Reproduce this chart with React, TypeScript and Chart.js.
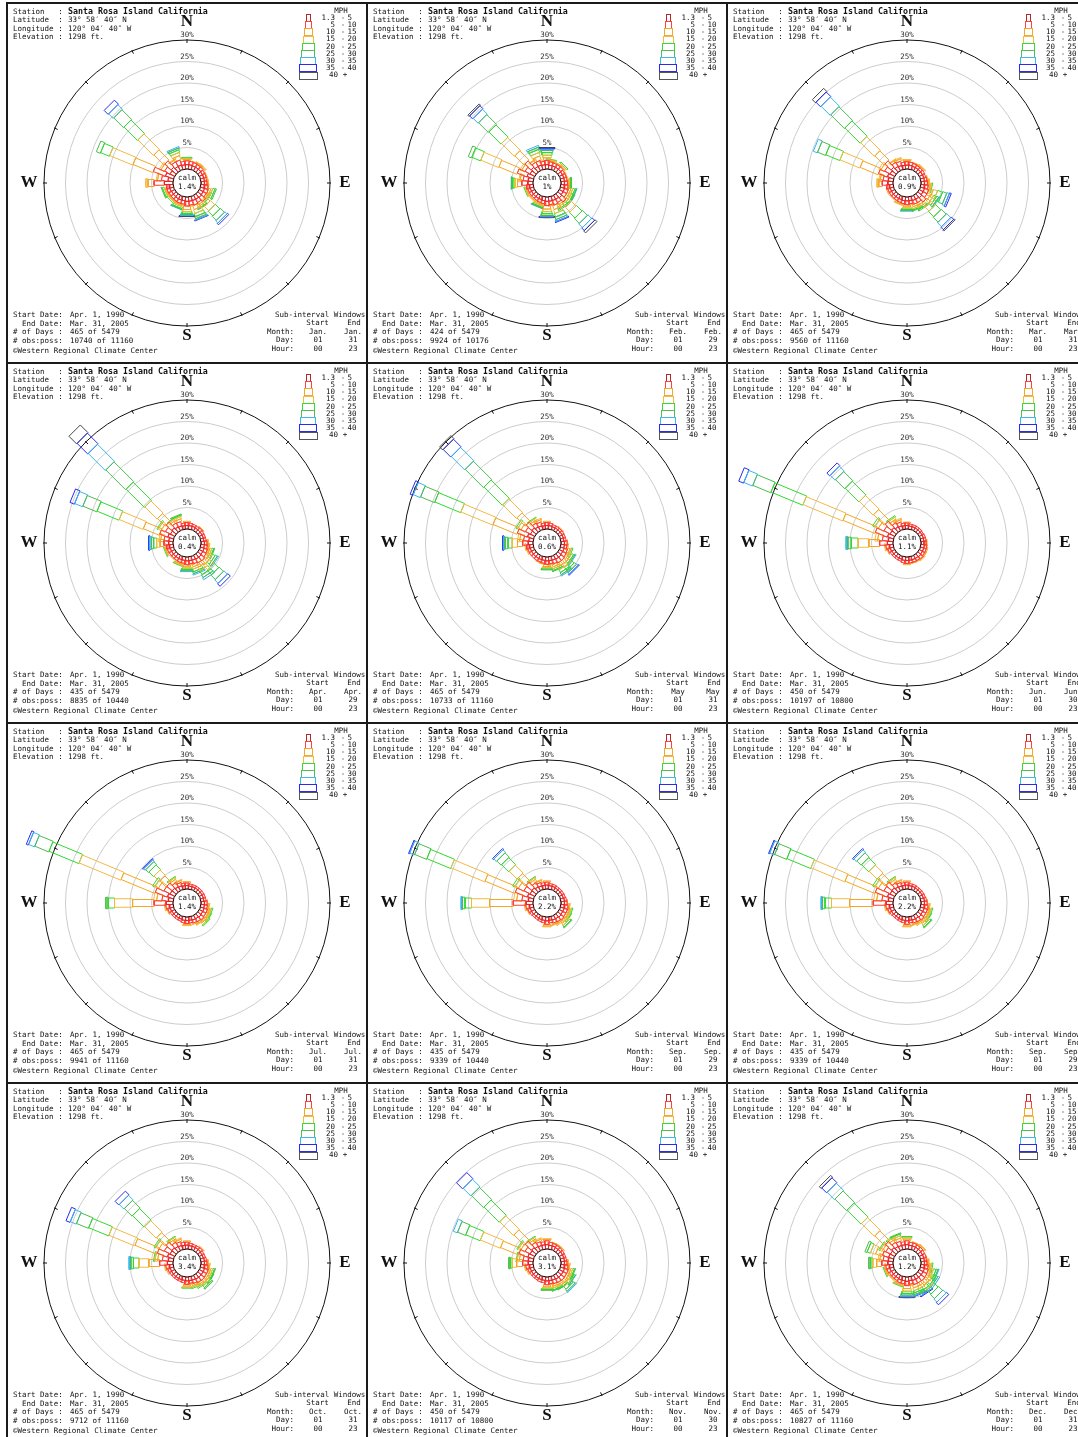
import React, { useEffect, useRef } from "react";
import { Chart, registerables } from "chart.js";
Chart.register(...registerables);

// ---------- DATA ----------
const MONTHS = ["Jan.", "Feb.", "Mar.", "Apr.", "May", "Jun.", "Jul.", "Sep.", "Sep.", "Oct.", "Nov.", "Dec."];
const END_DAYS = ["31", "29", "31", "29", "31", "30", "31", "29", "29", "31", "30", "31"];
const CALM_LABELS = ["1.4%", "1%", "0.9%", "0.4%", "0.6%", "1.1%", "1.4%", "2.2%", "2.2%", "3.4%", "3.1%", "1.2%"];
const DAY_COUNTS = ["465", "424", "465", "435", "465", "450", "465", "435", "435", "465", "450", "465"];
const OBS_POSS = ["10740 of 11160", "9924 of 10176", "9560 of 11160", "8835 of 10440", "10733 of 11160", "10197 of 10800",
  "9941 of 11160", "9339 of 10440", "9339 of 10440", "9712 of 11160", "10117 of 10800", "10827 of 11160"];
const SPEED_CLASSES = [["1.3", "5"], ["5", "10"], ["10", "15"], ["15", "20"], ["20", "25"], ["25", "30"], ["30", "35"], ["35", "40"], ["40", "+"]];
const RING_PCTS = [5, 10, 15, 20, 25, 30];
const DIRECTION_COUNT = 32;

// per direction (0°, 11.25°, ... clockwise from N): % per speed class
const JAN_ROSE = [
  [1.0, 0.9, 0.3, 0.2, 0.3], [1.0, 0.8], [0.9, 0.8, 0.2], [0.9, 0.7, 0.3, 0.2],
  [0.9, 0.7, 0.3, 0.2], [0.8, 0.6], [0.8, 0.6, 0.2], [0.8, 0.5],
  [0.8, 0.6, 0.3], [0.9, 0.7, 0.2], [1.0, 0.9, 0.5, 0.4, 0.5, 0.3], [1.0, 0.8, 0.4, 0.3, 0.3],
  [1.1, 1.2, 1.2, 1.4, 1.5, 1.3, 0.7, 0.4], [1.0, 0.9, 0.5, 0.4, 0.4, 0.2], [1.0, 1.1, 1.0, 0.9, 0.7, 0.5, 0.3, 0.1], [1.0, 0.9, 0.3],
  [1.0, 1.1, 0.8, 0.5, 0.4, 0.3, 0.2, 0.1, 0.1], [0.9, 0.8, 0.3], [0.9, 0.8, 0.3, 0.3, 0.4, 0.2, 0.1], [0.9, 0.7, 0.2],
  [0.8, 0.7, 0.3, 0.2, 0.3], [0.8, 0.7, 0.2], [0.9, 0.7, 0.3, 0.2, 0.4, 0.2], [0.9, 0.7],
  [2.0, 2.4, 1.4, 0.5], [1.2, 1.5, 0.9, 0.3], [2.0, 3.0, 5.0, 5.8, 2.2, 1.0], [1.2, 1.4, 0.9, 0.4],
  [1.5, 2.0, 3.3, 5.1, 4.4, 3.2, 1.5, 1.3], [1.1, 1.2, 0.5, 0.2], [1.1, 1.2, 1.0, 0.7, 0.6, 0.4, 0.3], [1.0, 0.8],
];
const FEB_ROSE = [
  [1.0, 1.0, 0.6, 0.6, 0.6, 0.5, 0.3, 0.2, 0.2], [0.9, 0.8, 0.2, 0.2, 0.2], [0.9, 0.7, 0.2], [0.9, 0.7, 0.3],
  [0.9, 0.7, 0.3, 0.3, 0.3], [0.8, 0.6], [0.8, 0.6, 0.2], [0.8, 0.6],
  [0.8, 0.7, 0.3, 0.2, 0.3, 0.1], [0.9, 0.7, 0.3], [1.0, 0.9, 0.5, 0.4, 0.5, 0.3, 0.1], [1.0, 0.9, 0.5, 0.5, 0.5, 0.3],
  [1.2, 1.3, 1.3, 1.5, 1.8, 1.6, 1.2, 0.8, 0.6], [1.0, 0.9, 0.5, 0.4, 0.5, 0.3], [1.0, 1.1, 1.0, 0.9, 0.8, 0.6, 0.4, 0.2], [1.0, 0.8, 0.3],
  [1.0, 1.0, 0.8, 0.6, 0.5, 0.4, 0.2, 0.1, 0.1], [0.9, 0.7, 0.3], [0.8, 0.7, 0.3, 0.3, 0.3, 0.2, 0.1], [0.8, 0.6],
  [0.8, 0.6, 0.3, 0.2], [0.8, 0.6], [0.8, 0.6, 0.3, 0.2, 0.2], [0.9, 0.7],
  [1.2, 1.4, 1.0, 0.6, 0.5, 0.3, 0.1], [1.1, 1.2, 0.7, 0.3], [1.6, 2.4, 4.5, 4.5, 2.2, 0.8], [1.2, 1.3, 0.8, 0.4],
  [1.5, 2.0, 3.0, 4.2, 4.0, 3.2, 1.6, 1.0, 0.4], [1.1, 1.1, 0.5, 0.2], [1.1, 1.1, 1.0, 0.8, 0.7, 0.5, 0.4], [1.0, 0.8, 0.2],
];
const MAR_ROSE = [
  [0.9, 0.8, 0.3, 0.2], [0.9, 0.7], [0.8, 0.7, 0.2], [0.8, 0.6, 0.2],
  [0.8, 0.6, 0.3, 0.2], [0.8, 0.6], [0.8, 0.5], [0.8, 0.6, 0.2],
  [0.8, 0.7, 0.3, 0.2], [0.9, 0.8, 0.4, 0.3, 0.2], [1.0, 1.0, 1.0, 1.0, 1.2, 1.0, 0.6, 0.4], [1.0, 1.0, 0.8, 0.7, 0.7, 0.5, 0.2],
  [1.2, 1.3, 1.2, 1.3, 1.7, 1.6, 1.3, 0.8, 0.3], [1.0, 0.9, 0.6, 0.5, 0.4, 0.3], [1.0, 0.9, 0.5, 0.4, 0.3, 0.2], [0.9, 0.7, 0.3],
  [0.9, 0.9, 0.5, 0.3, 0.3, 0.2, 0.2], [0.9, 0.7, 0.2], [0.8, 0.7, 0.3, 0.2], [0.8, 0.6],
  [0.8, 0.6, 0.2], [0.8, 0.6], [0.8, 0.6, 0.3], [0.9, 0.7],
  [1.2, 1.3, 0.8, 0.4], [1.1, 1.2, 0.7, 0.3], [1.5, 2.2, 4.5, 5.0, 3.5, 2.0, 1.0], [1.2, 1.4, 0.9, 0.5],
  [1.5, 2.0, 3.0, 4.5, 5.0, 4.5, 3.0, 1.5, 1.0], [1.1, 1.1, 0.5, 0.2], [1.0, 1.0, 0.5, 0.3], [0.9, 0.7],
];
const APR_ROSE = [
  [0.8, 0.7, 0.3], [0.8, 0.6], [0.8, 0.5], [0.7, 0.5],
  [0.7, 0.6, 0.2], [0.7, 0.5], [0.7, 0.5], [0.7, 0.5],
  [0.8, 0.6, 0.3], [0.8, 0.7, 0.3, 0.2], [0.9, 0.8, 0.5, 0.4, 0.4, 0.2], [0.9, 0.9, 0.7, 0.6, 0.7, 0.5, 0.3],
  [1.0, 1.1, 1.1, 1.3, 1.5, 1.4, 1.1, 0.8], [1.0, 1.0, 0.9, 0.9, 1.0, 0.7, 0.5], [0.9, 0.9, 0.6, 0.5, 0.6, 0.4, 0.3], [0.9, 0.7, 0.3],
  [0.9, 0.9, 0.5, 0.3, 0.3, 0.3, 0.2], [0.8, 0.7, 0.2], [0.8, 0.7, 0.3, 0.2, 0.2], [0.8, 0.6],
  [0.8, 0.6, 0.2], [0.8, 0.6], [0.8, 0.7, 0.3, 0.2, 0.2], [0.9, 0.7, 0.3],
  [1.0, 1.1, 0.9, 0.8, 0.7, 0.5, 0.4, 0.2], [1.0, 1.1, 0.8, 0.4], [1.4, 2.0, 4.0, 6.0, 5.5, 3.5, 2.0, 1.1], [1.1, 1.3, 1.0, 0.7, 0.3],
  [1.3, 1.8, 2.5, 4.0, 6.0, 6.5, 5.6, 3.5, 2.5], [1.0, 1.0, 0.6, 0.4, 0.2], [0.9, 1.0, 0.6, 0.5, 0.3, 0.2], [0.8, 0.6],
];
const MAY_ROSE = [
  [0.8, 0.7, 0.3], [0.8, 0.6], [0.7, 0.5], [0.7, 0.5],
  [0.7, 0.5, 0.2], [0.7, 0.5], [0.7, 0.5], [0.7, 0.5],
  [0.8, 0.6, 0.2], [0.8, 0.6, 0.3], [0.9, 0.8, 0.5, 0.3, 0.3], [0.9, 0.9, 0.6, 0.5, 0.5, 0.3, 0.2],
  [1.0, 1.0, 0.9, 0.8, 0.8, 0.6, 0.4, 0.2], [1.0, 1.0, 0.8, 0.7, 0.7, 0.5, 0.3], [0.9, 0.9, 0.6, 0.4, 0.4, 0.2], [0.9, 0.7, 0.3],
  [0.9, 0.8, 0.5, 0.3, 0.3, 0.2], [0.8, 0.7, 0.2], [0.8, 0.6, 0.2], [0.8, 0.6],
  [0.8, 0.6], [0.8, 0.6], [0.8, 0.6, 0.3], [0.9, 0.7, 0.3],
  [1.1, 1.3, 1.2, 1.2, 1.0, 0.7, 0.3, 0.2], [1.0, 1.2, 0.9, 0.5], [1.5, 2.5, 6.0, 8.0, 6.5, 3.5, 1.8, 0.7], [1.1, 1.3, 1.1, 0.8, 0.4],
  [1.3, 1.8, 2.7, 4.5, 6.0, 6.0, 4.4, 2.5, 1.0], [1.0, 1.0, 0.6, 0.4, 0.2], [0.9, 0.9, 0.5, 0.3], [0.8, 0.6],
];
const JUN_ROSE = [
  [0.8, 0.6, 0.2], [0.7, 0.5], [0.7, 0.5], [0.7, 0.5],
  [0.7, 0.5], [0.7, 0.4], [0.7, 0.5], [0.7, 0.5],
  [0.7, 0.5, 0.2], [0.8, 0.6], [0.8, 0.6, 0.3], [0.8, 0.6, 0.3],
  [0.9, 0.7, 0.3], [0.8, 0.6, 0.2], [0.8, 0.6, 0.2], [0.8, 0.6],
  [0.8, 0.7, 0.3], [0.8, 0.6], [0.7, 0.5], [0.7, 0.5],
  [0.7, 0.5], [0.7, 0.5], [0.8, 0.6, 0.2], [0.9, 0.8, 0.3],
  [1.3, 1.8, 2.5, 2.5, 1.6, 0.8, 0.4], [1.1, 1.4, 1.1, 0.6], [1.5, 3.0, 8.0, 10.0, 8.0, 4.5, 2.2, 1.2], [1.2, 1.6, 1.4, 0.9, 0.5],
  [1.4, 2.0, 3.5, 4.5, 4.5, 3.0, 1.6, 0.9], [1.0, 1.1, 0.7, 0.5, 0.3], [0.9, 0.9, 0.5, 0.3], [0.8, 0.6],
];
const JUL_ROSE = [
  [0.8, 0.6, 0.3], [0.7, 0.5], [0.7, 0.5], [0.7, 0.5],
  [0.7, 0.5], [0.7, 0.5], [0.7, 0.5], [0.7, 0.5],
  [0.8, 0.6, 0.2], [0.8, 0.7, 0.3, 0.2], [0.9, 0.8, 0.5, 0.3, 0.3], [0.9, 0.8, 0.5, 0.4, 0.3],
  [1.0, 0.9, 0.6, 0.4, 0.3], [0.9, 0.8, 0.4, 0.2], [0.9, 0.7, 0.3], [0.8, 0.6],
  [0.8, 0.7, 0.3, 0.2], [0.8, 0.6], [0.7, 0.5], [0.7, 0.5],
  [0.7, 0.5], [0.7, 0.5], [0.8, 0.6, 0.2], [0.9, 0.8, 0.3],
  [1.6, 2.8, 5.0, 4.2, 1.5, 0.5], [1.1, 1.5, 1.2, 0.7], [1.5, 3.0, 8.5, 10.5, 7.5, 3.5, 1.5, 0.5], [1.2, 1.6, 1.4, 0.9, 0.5],
  [1.2, 1.6, 2.0, 1.8, 1.5, 0.9, 0.5, 0.2], [1.0, 1.1, 0.7, 0.4, 0.2], [0.9, 0.8, 0.4, 0.2], [0.8, 0.6],
];
const SEP_ROSE = [
  [0.9, 0.7, 0.3], [0.8, 0.5], [0.8, 0.5], [0.7, 0.5],
  [0.7, 0.5], [0.7, 0.5], [0.7, 0.5], [0.8, 0.5],
  [0.8, 0.6, 0.2], [0.9, 0.7, 0.3, 0.2], [0.9, 0.8, 0.5, 0.3, 0.3], [0.9, 0.8, 0.5, 0.4, 0.3],
  [1.0, 0.9, 0.7, 0.5, 0.4, 0.2], [0.9, 0.8, 0.4, 0.3], [0.9, 0.7, 0.3, 0.2], [0.8, 0.6],
  [0.9, 0.8, 0.4, 0.2], [0.8, 0.6], [0.8, 0.5], [0.7, 0.5],
  [0.7, 0.5], [0.8, 0.5], [0.8, 0.6, 0.2], [0.9, 0.8, 0.3],
  [1.6, 3.0, 5.5, 4.2, 1.5, 0.6, 0.3], [1.1, 1.5, 1.2, 0.7], [1.5, 3.0, 7.5, 8.5, 6.0, 3.0, 1.2, 0.2], [1.2, 1.6, 1.4, 0.9, 0.5],
  [1.3, 1.8, 2.5, 2.6, 2.3, 1.4, 0.8, 0.3], [1.0, 1.1, 0.7, 0.4, 0.2], [0.9, 0.8, 0.4, 0.2], [0.9, 0.6],
];
const OCT_ROSE = [
  [0.9, 0.7, 0.3], [0.8, 0.6], [0.8, 0.5], [0.8, 0.5],
  [0.8, 0.6, 0.2], [0.7, 0.5], [0.7, 0.5], [0.8, 0.5],
  [0.8, 0.6, 0.3], [0.9, 0.7, 0.3, 0.2], [1.0, 0.9, 0.5, 0.4, 0.4, 0.2], [1.0, 0.9, 0.5, 0.4, 0.4, 0.2],
  [1.0, 1.0, 0.7, 0.5, 0.5, 0.3], [1.0, 0.9, 0.5, 0.4, 0.3], [0.9, 0.8, 0.4, 0.3, 0.3], [0.9, 0.6, 0.2],
  [0.9, 0.8, 0.4, 0.3, 0.2], [0.8, 0.6], [0.8, 0.5], [0.8, 0.5],
  [0.8, 0.5], [0.8, 0.5], [0.8, 0.6, 0.3], [0.9, 0.8, 0.3],
  [1.3, 1.8, 2.5, 2.3, 1.3, 0.6, 0.4], [1.1, 1.4, 1.1, 0.6, 0.3], [1.5, 2.5, 5.5, 6.5, 5.0, 3.0, 1.5, 1.0], [1.2, 1.5, 1.3, 0.8, 0.4],
  [1.3, 1.8, 2.8, 3.8, 3.8, 2.5, 1.5, 1.2], [1.1, 1.1, 0.7, 0.4, 0.2], [1.0, 0.9, 0.5, 0.3], [0.9, 0.7],
];
const NOV_ROSE = [
  [1.0, 0.9, 0.3, 0.2], [0.9, 0.7], [0.9, 0.6, 0.2], [0.8, 0.6, 0.2],
  [0.8, 0.6, 0.3], [0.8, 0.5], [0.8, 0.5], [0.8, 0.5],
  [0.8, 0.6, 0.3], [0.9, 0.7, 0.3, 0.2], [1.0, 0.9, 0.5, 0.4, 0.4, 0.2], [1.0, 0.9, 0.6, 0.5, 0.5, 0.3, 0.1],
  [1.0, 1.0, 0.8, 0.7, 0.7, 0.5, 0.3], [1.0, 0.9, 0.5, 0.4, 0.4, 0.2], [0.9, 0.9, 0.5, 0.4, 0.4, 0.2], [0.9, 0.7, 0.2],
  [0.9, 0.9, 0.5, 0.3, 0.3, 0.2], [0.8, 0.6], [0.8, 0.6], [0.8, 0.5],
  [0.8, 0.5], [0.8, 0.5], [0.8, 0.6, 0.3], [0.9, 0.8, 0.3],
  [1.1, 1.3, 1.4, 1.0, 0.5, 0.3], [1.1, 1.2, 0.9, 0.5, 0.2], [1.4, 2.2, 4.5, 5.0, 3.6, 2.0, 1.0], [1.2, 1.3, 1.0, 0.6, 0.3],
  [1.4, 2.0, 3.4, 4.5, 5.0, 4.0, 2.5, 2.0], [1.1, 1.1, 0.7, 0.4, 0.2], [1.0, 0.9, 0.5, 0.3], [1.0, 0.7],
];
const DEC_ROSE = [
  [1.0, 0.9, 0.4, 0.3, 0.3], [0.9, 0.7], [0.9, 0.7, 0.2], [0.9, 0.6, 0.3],
  [0.9, 0.6, 0.3, 0.2], [0.8, 0.6], [0.8, 0.6], [0.8, 0.5, 0.2],
  [0.8, 0.6, 0.3, 0.2], [0.9, 0.8, 0.4, 0.3, 0.3], [1.0, 0.9, 0.6, 0.5, 0.6, 0.4, 0.2], [1.0, 1.0, 0.7, 0.6, 0.7, 0.5, 0.4],
  [1.0, 1.1, 1.1, 1.2, 1.4, 1.3, 1.0, 0.7], [1.0, 1.0, 0.7, 0.6, 0.7, 0.5, 0.4, 0.2], [1.0, 1.0, 0.7, 0.6, 0.5, 0.4, 0.3, 0.1], [0.9, 0.8, 0.3],
  [1.0, 1.0, 0.7, 0.6, 0.5, 0.4, 0.3, 0.1, 0.1], [0.9, 0.7, 0.3], [0.9, 0.7, 0.3, 0.2, 0.2], [0.8, 0.6],
  [0.8, 0.6, 0.2, 0.2], [0.8, 0.6], [0.9, 0.7, 0.3, 0.2, 0.2], [0.9, 0.8, 0.3],
  [1.2, 1.4, 1.2, 0.9, 0.5, 0.4], [1.1, 1.2, 0.8, 0.4], [1.2, 1.5, 1.6, 1.2, 0.8, 0.5], [1.1, 1.2, 0.8, 0.5, 0.3],
  [1.4, 1.9, 3.2, 4.2, 4.6, 3.8, 2.4, 1.6, 0.6], [1.1, 1.1, 0.7, 0.5, 0.3], [1.0, 1.0, 0.7, 0.5, 0.4, 0.2], [1.0, 0.7],
];
const ROSES = [JAN_ROSE, FEB_ROSE, MAR_ROSE, APR_ROSE, MAY_ROSE, JUN_ROSE, JUL_ROSE, SEP_ROSE, SEP_ROSE, OCT_ROSE, NOV_ROSE, DEC_ROSE];

// ---------- STYLE ----------
const PANEL = 360;
const PX_PER_PCT = 4.3;
const CALM_PX = 14;
const HALF_RANGE = PANEL / 2 / PX_PER_PCT;
const CALM_R = CALM_PX / PX_PER_PCT;
const CLASS_COLORS = ["#e02828", "#ff3a3a", "#f5a623", "#f4b942", "#2edb2e", "#4cbb4c", "#35b6f0", "#2a2af0", "#444444"];
const LEGEND_COLORS = ["#b02a2a", "#ff4040", "#f0a830", "#f5bb45", "#33dd33", "#55bb55", "#40b8f0", "#2a2af0", "#555555"];
const CLASS_WIDTHS = [3, 4.5, 7, 8.5, 10, 11.5, 13, 14.5, 16];
const LEGEND_WIDTHS = [4, 6, 8, 10, 12, 13, 15, 17, 18];
const MONO = '"DejaVu Sans Mono", monospace';

function buildDatasets(rose: number[][]) {
  return CLASS_COLORS.map((color, k) => {
    const pts: { x: number; y: number | null }[] = [];
    rose.forEach((classes, d) => {
      const val = classes[k];
      if (!val) return;
      let start = CALM_R;
      for (let j = 0; j < k; j++) start += classes[j] || 0;
      const end = start + val;
      const th = (d * 360 / DIRECTION_COUNT) * Math.PI / 180;
      const ux = Math.sin(th), uy = Math.cos(th);
      const vx = Math.cos(th), vy = -Math.sin(th);
      const hw = CLASS_WIDTHS[k] / 2 / PX_PER_PCT;
      pts.push(
        { x: start * ux + hw * vx, y: start * uy + hw * vy },
        { x: end * ux + hw * vx, y: end * uy + hw * vy },
        { x: end * ux - hw * vx, y: end * uy - hw * vy },
        { x: start * ux - hw * vx, y: start * uy - hw * vy },
        { x: start * ux + hw * vx, y: start * uy + hw * vy },
        { x: 0, y: null }
      );
    });
    return {
      data: pts, showLine: true, borderColor: color, borderWidth: 1, pointRadius: 0,
      fill: false, spanGaps: false, tension: 0, clip: false,
    };
  });
}

const rosePlugin = {
  id: "rosePanel",
  beforeDatasetsDraw(chart: any) {
    const { ctx } = chart;
    const xs = chart.scales.x, ys = chart.scales.y;
    const cx = xs.getPixelForValue(0), cy = ys.getPixelForValue(0);
    const rpx = (p: number) => xs.getPixelForValue(CALM_R + p) - cx;
    ctx.save();
    ctx.lineWidth = 1;
    RING_PCTS.forEach((p) => {
      ctx.beginPath();
      ctx.arc(cx, cy, rpx(p), 0, Math.PI * 2);
      ctx.strokeStyle = p === 30 ? "#111" : "#cccccc";
      ctx.stroke();
    });
    const R = rpx(30);
    ctx.strokeStyle = "#111";
    for (let k = 0; k < 16; k++) {
      const a = (k * 22.5) * Math.PI / 180;
      ctx.beginPath();
      ctx.moveTo(cx + Math.sin(a) * (R - 3), cy - Math.cos(a) * (R - 3));
      ctx.lineTo(cx + Math.sin(a) * (R + 1), cy - Math.cos(a) * (R + 1));
      ctx.stroke();
    }
    ctx.font = `7.5px ${MONO}`;
    ctx.fillStyle = "#333";
    ctx.textAlign = "center";
    ctx.textBaseline = "middle";
    RING_PCTS.forEach((p) => ctx.fillText(p + "%", cx, cy - rpx(p) - 4.5));
    ctx.restore();
  },
  afterDatasetsDraw(chart: any, _a: any, opts: any) {
    const { ctx } = chart;
    const xs = chart.scales.x, ys = chart.scales.y;
    const cx = xs.getPixelForValue(0), cy = ys.getPixelForValue(0);
    const calmR = xs.getPixelForValue(CALM_R) - cx;
    ctx.save();
    ctx.beginPath();
    ctx.arc(cx, cy, calmR, 0, Math.PI * 2);
    ctx.fillStyle = "#fff";
    ctx.fill();
    ctx.strokeStyle = "#111";
    ctx.lineWidth = 1;
    ctx.stroke();
    ctx.fillStyle = "#111";
    ctx.font = `7.5px ${MONO}`;
    ctx.textAlign = "center";
    ctx.textBaseline = "middle";
    ctx.fillText("calm", cx, cy - 5);
    ctx.fillText(opts.calm, cx, cy + 4);
    ctx.font = 'bold 17px "Liberation Serif", serif';
    ctx.fillText("N", cx, cy - 161);
    ctx.fillText("S", cx, cy + 153);
    ctx.fillText("W", cx - 158, cy);
    ctx.fillText("E", cx + 158, cy);
    ctx.textAlign = "left";
    ctx.font = `7.5px ${MONO}`;
    const hdr = [["Station   :", ""], ["Latitude  :", "33° 58′ 40″ N"], ["Longitude :", "120° 04′ 40″ W"], ["Elevation :", "1298 ft."]];
    hdr.forEach((h, i) => {
      const y = 8.7 + i * 8.6;
      ctx.fillText(h[0], 6, y);
      if (h[1]) ctx.fillText(h[1], 61, y);
    });
    ctx.font = `bold 8.3px ${MONO}`;
    ctx.fillText("Santa Rosa Island California", 61, 8.7);
    ctx.font = `7.5px ${MONO}`;
    ctx.textAlign = "center";
    ctx.fillText("MPH", 334, 8);
    SPEED_CLASSES.forEach((sc, k) => {
      const top = 11 + k * 7.2;
      const w = LEGEND_WIDTHS[k];
      ctx.strokeStyle = LEGEND_COLORS[k];
      ctx.strokeRect(Math.round(300.7 - w / 2) + 0.5, Math.round(top) + 0.5, Math.round(w), 7);
      const y = top + 3.8;
      if (sc[1] === "+") {
        ctx.textAlign = "right";
        ctx.fillText(sc[0], 331, y);
        ctx.textAlign = "center";
        ctx.fillText("+", 338, y);
      } else {
        ctx.textAlign = "right";
        ctx.fillText(sc[0], 328, y);
        ctx.textAlign = "center";
        ctx.fillText("-", 336, y);
        ctx.textAlign = "left";
        ctx.fillText(sc[1], 340.5, y);
      }
    });
    ctx.textAlign = "left";
    const foot = [["Start Date:", "Apr. 1, 1990"], ["  End Date:", "Mar. 31, 2005"], ["# of Days :", opts.days + " of 5479"], ["# obs:poss:", opts.obs]];
    foot.forEach((f, i) => {
      const y = 312 + i * 8.6;
      ctx.fillText(f[0], 6, y);
      ctx.fillText(f[1], 63, y);
    });
    ctx.fillText("©Western Regional Climate Center", 6, 347.7);
    ctx.fillText("Sub-interval Windows", 268, 312);
    ctx.textAlign = "center";
    ctx.fillText("Start", 310.5, 320.5);
    ctx.fillText("End", 347, 320.5);
    const rows = [["Month:", opts.month, opts.month], ["Day:", "01", opts.endDay], ["Hour:", "00", "23"]];
    rows.forEach((r, i) => {
      const y = 328.8 + i * 8.5;
      ctx.textAlign = "right";
      ctx.fillText(r[0], 287, y);
      ctx.textAlign = "center";
      ctx.fillText(r[1], 311, y);
      ctx.fillText(r[2], 346, y);
    });
    ctx.restore();
  },
};

function RosePanel({ idx }: { idx: number }) {
  const ref = useRef<HTMLCanvasElement>(null);
  useEffect(() => {
    if (!ref.current) return;
    const chart = new Chart(ref.current, {
      type: "scatter",
      data: { datasets: buildDatasets(ROSES[idx]) as any },
      options: {
        animation: false,
        responsive: false,
        devicePixelRatio: 1,
        events: [],
        layout: { padding: 0 },
        scales: {
          x: { type: "linear", min: -HALF_RANGE, max: HALF_RANGE, display: false },
          y: { type: "linear", min: -HALF_RANGE, max: HALF_RANGE, display: false },
        },
        plugins: {
          legend: { display: false },
          tooltip: { enabled: false },
          rosePanel: {
            month: MONTHS[idx], endDay: END_DAYS[idx], calm: CALM_LABELS[idx],
            days: DAY_COUNTS[idx], obs: OBS_POSS[idx],
          },
        } as any,
      },
      plugins: [rosePlugin],
    });
    return () => chart.destroy();
  }, [idx]);
  const col = idx % 3, row = Math.floor(idx / 3);
  return (
    <canvas ref={ref} width={PANEL} height={PANEL}
      style={{ position: "absolute", left: 7 + col * PANEL, top: 3 + row * PANEL, width: PANEL, height: PANEL }} />
  );
}

export default function App() {
  const vLines = [7, 367, 727];
  const hLines = [3, 363, 723, 1083];
  return (
    <div style={{ position: "absolute", left: 0, top: 0, width: 1078, height: 1437, overflow: "hidden", background: "#fff" }}>
      {ROSES.map((_, i) => <RosePanel key={i} idx={i} />)}
      {vLines.map((x) => (
        <div key={"v" + x} style={{ position: "absolute", left: x - 1, top: 2, width: 2, height: 1437, background: "#1a1a1a" }} />
      ))}
      {hLines.map((y) => (
        <div key={"h" + y} style={{ position: "absolute", left: 6, top: y - 1, width: 1078, height: 2, background: "#1a1a1a" }} />
      ))}
    </div>
  );
}
